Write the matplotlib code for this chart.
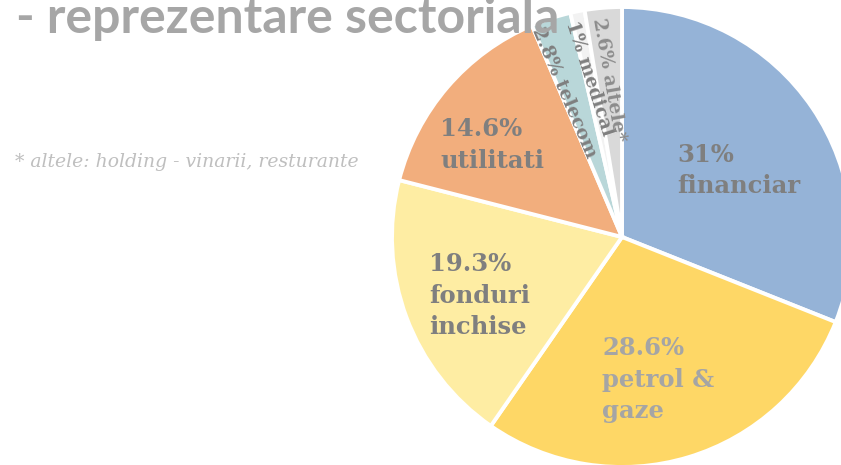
import matplotlib.pyplot as plt

# sector shares (%), clockwise from 12 o'clock
sectors = ["financiar", "petrol &\ngaze", "fonduri\ninchise", "utilitati", "telecom", "medical", "altele*"]
shares = [31, 28.6, 19.3, 14.6, 2.8, 1, 2.6]
share_labels = ["31%", "28.6%", "19.3%", "14.6%", "2.8%", "1%", "2.6%"]
colors = ["#95B3D7", "#FED766", "#FEEDA3", "#F2AE7D", "#B9D7D9", "#F2F2F2", "#D9D9D9"]
label_colors = ["#7F7F7F", "#A5A5A5", "#7F7F7F", "#7F7F7F", "#7F7F7F", "#7F7F7F", "#8C8C8C"]

title = "- reprezentare sectoriala"
note = "* altele: holding - vinarii, resturante"

W, H = 841, 465
fig = plt.figure(figsize=(W / 100, H / 100), dpi=100)

# pie: centre (622, 237) px, radius 230 px
cx, cy, R = 622, 237, 230
ax = fig.add_axes([(cx - R) / W, (H - cy - R) / H, 2 * R / W, 2 * R / H])
wedges, _ = ax.pie(shares, colors=colors, startangle=90, counterclock=False,
                   radius=1, wedgeprops=dict(edgecolor="white", linewidth=2.8))
ax.set_xlim(-1, 1)
ax.set_ylim(-1, 1)
ax.set_aspect("equal")
ax.axis("off")

serif = "DejaVu Serif"

# big slices: horizontal, left aligned labels (x, y in pie units)
big_pos = {0: (0.239, 0.29), 1: (-0.085, -0.62), 2: (-0.84, -0.255), 3: (-0.79, 0.40)}
for i, (x, y) in big_pos.items():
    ax.text(x, y, f"{share_labels[i]}\n{sectors[i]}", ha="left", va="center",
            fontsize=17.5, fontweight="bold", family=serif, color=label_colors[i],
            linespacing=1.38)

# thin slices: rotated labels (x, y, rotation)
thin_pos = {4: (-0.252, 0.626, -67), 5: (-0.143, 0.691, -72), 6: (-0.057, 0.683, -80)}
for i, (x, y, rot) in thin_pos.items():
    ax.text(x, y, f"{share_labels[i]} {sectors[i]}", ha="center", va="center",
            rotation=rot, rotation_mode="anchor", fontsize=13.5, fontweight="bold",
            family=serif, color=label_colors[i])

fig.text(16 / W, 1 - 33 / H, title, ha="left", va="baseline", fontsize=36,
         fontweight="bold", family="Lato", color="#A6A6A6")
fig.text(15 / W, 1 - 167 / H, note, ha="left", va="baseline", fontsize=13.5,
         style="italic", family=serif, color="#BFBFBF")

fig.savefig("out.png", dpi=100)
